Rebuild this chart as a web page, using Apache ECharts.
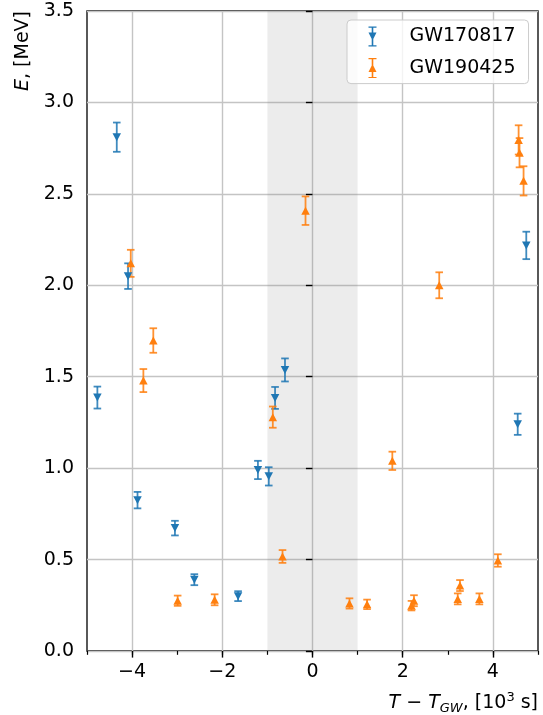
<!DOCTYPE html>
<html>
<head>
<meta charset="utf-8">
<script src="https://cdn.jsdelivr.net/npm/echarts@6/dist/echarts.min.js"></script>
<style>
  html, body { margin: 0; padding: 0; background: #ffffff; }
  #chart { width: 543px; height: 715px; }
</style>
</head>
<body>
<div id="chart"></div>
<script>
// Event energies versus time offset from the gravitational-wave trigger (10^3 s)
const gw170817Time = [-4.77, -4.34, -4.09, -3.88, -3.05, -2.62, -1.65, -1.21, -0.97, -0.83, -0.61, 4.55, 4.74];
const gw170817Energy = [1.386, 2.81, 2.05, 0.825, 0.672, 0.39, 0.30, 0.99, 0.955, 1.384, 1.537, 1.24, 2.218];
const gw170817Error = [0.06, 0.08, 0.07, 0.045, 0.04, 0.03, 0.027, 0.05, 0.05, 0.06, 0.063, 0.058, 0.075];

const gw190425Time = [-4.03, -3.75, -3.53, -2.99, -2.17, -0.88, -0.665, -0.155, 0.82, 1.21, 1.77,
                      2.195, 2.25, 2.81, 3.22, 3.27, 3.70, 4.11, 4.57, 4.59, 4.68];
const gw190425Energy = [2.12, 1.479, 1.698, 0.275, 0.28, 1.279, 0.517, 2.408, 0.26, 0.255, 1.04,
                        0.248, 0.275, 2.0, 0.285, 0.358, 0.285, 0.495, 2.795, 2.725, 2.571];
const gw190425Error = [0.074, 0.063, 0.067, 0.028, 0.03, 0.058, 0.035, 0.078, 0.028, 0.026, 0.05,
                       0.026, 0.03, 0.071, 0.03, 0.03, 0.03, 0.034, 0.08, 0.08, 0.08];

// Window around the trigger time
const triggerWindow = [-1, 1];

// Axis ticks
const xMajorTicks = [-4, -2, 0, 2, 4];
const xRange = [-5, 5];
const yRange = [0, 3.5];
const yStep = 0.5;

const FONT = 'DejaVu Sans';
const BLUE = '#1f77b4';
const ORANGE = '#ff7f0e';

const markerDown = 'path://M0 0L10 0L5 10Z';
const markerUp = 'path://M5 0L10 10L0 10Z';
// Legend glyphs: error bar with caps plus the marker
const legendDown = 'path://M0 0H80V12H0Z M32 0H48V200H32Z M0 188H80V200H0Z M0 60H80L40 140Z';
const legendUp = 'path://M0 0H80V12H0Z M32 0H48V200H32Z M0 188H80V200H0Z M40 60L80 140H0Z';

function rows(t, e, s) {
  return t.map((v, i) => [v, e[i], s[i]]);
}

function errorBarRenderer(color) {
  return function (params, api) {
    const x = api.value(0), y = api.value(1), s = api.value(2);
    const top = api.coord([x, y + s]);
    const bot = api.coord([x, y - s]);
    const hw = 3.8;
    const style = { stroke: color, lineWidth: 1.8, opacity: 0.85 };
    return {
      type: 'group',
      children: [
        { type: 'line', shape: { x1: top[0], y1: top[1], x2: bot[0], y2: bot[1] }, style: style },
        { type: 'line', shape: { x1: top[0] - hw, y1: top[1], x2: top[0] + hw, y2: top[1] }, style: style },
        { type: 'line', shape: { x1: bot[0] - hw, y1: bot[1], x2: bot[0] + hw, y2: bot[1] }, style: style }
      ]
    };
  };
}

function windowRenderer(params, api) {
  const p0 = api.coord([api.value(0), yRange[1]]);
  const p1 = api.coord([api.value(1), yRange[0]]);
  return {
    type: 'rect',
    shape: { x: p0[0], y: p0[1], width: p1[0] - p0[0], height: p1[1] - p0[1] },
    style: { fill: 'rgba(128,128,128,0.15)' }
  };
}

function minusLabel(v) {
  return v < 0 ? '\u2212' + Math.abs(v) : String(v);
}

const chart = echarts.init(document.getElementById('chart'), null, { renderer: 'canvas' });

const labelStyle = { fontFamily: FONT, fontSize: 19, color: '#000' };

chart.setOption({
  animation: false,
  backgroundColor: '#ffffff',
  textStyle: { fontFamily: FONT },
  grid: {
    left: 87, right: 5, top: 11, bottom: 64,
    show: true, borderColor: '#000', borderWidth: 1.3, backgroundColor: 'transparent'
  },
  xAxis: [
    {
      type: 'value', min: xRange[0], max: xRange[1],
      axisLine: { show: false },
      axisTick: { show: true, length: 6.6, lineStyle: { color: '#000', width: 1.4 }, customValues: xMajorTicks },
      axisLabel: { ...labelStyle, margin: 12, customValues: xMajorTicks, formatter: minusLabel },
      splitLine: { show: true, lineStyle: { color: '#c4c4c4', width: 1.4 } }
    },
    {
      type: 'value', min: xRange[0], max: xRange[1], interval: 1, position: 'bottom',
      axisLine: { show: false },
      axisTick: { show: true, length: 3.8, lineStyle: { color: '#000', width: 1.2 } },
      axisLabel: { show: false },
      splitLine: { show: false }
    }
  ],
  yAxis: {
    type: 'value', min: yRange[0], max: yRange[1], interval: yStep,
    axisLine: { show: false },
    axisTick: { show: true, length: 6.6, lineStyle: { color: '#000', width: 1.4 } },
    axisLabel: { ...labelStyle, margin: 13, formatter: v => v.toFixed(1) },
    splitLine: { show: true, lineStyle: { color: '#c4c4c4', width: 1.4 } }
  },
  legend: {
    orient: 'vertical',
    left: 347, top: 20,
    padding: [6.5, 13, 5.5, 21.5],
    itemWidth: 8, itemHeight: 20, itemGap: 11.6,
    backgroundColor: 'rgba(255,255,255,0.8)',
    borderColor: '#cccccc', borderWidth: 1, borderRadius: 4,
    symbolRotate: 0,
    selectedMode: false,
    textStyle: { fontFamily: FONT, fontSize: 19, color: '#000', padding: [0, 0, 0, 28] },
    data: [
      { name: 'GW170817', icon: legendDown },
      { name: 'GW190425', icon: legendUp }
    ]
  },
  series: [
    {
      name: 'window', type: 'custom', z: 0, silent: true,
      renderItem: windowRenderer,
      data: [triggerWindow]
    },
    {
      name: 'GW170817 errors', type: 'custom', silent: true,
      dimensions: ['t', 'E', 'err'], encode: { x: 't', y: 'E' },
      renderItem: errorBarRenderer(BLUE),
      data: rows(gw170817Time, gw170817Energy, gw170817Error)
    },
    {
      name: 'GW170817', type: 'scatter',
      symbol: markerDown, symbolSize: [8.5, 8],
      itemStyle: { color: BLUE, opacity: 1 },
      data: rows(gw170817Time, gw170817Energy, gw170817Error)
    },
    {
      name: 'GW190425 errors', type: 'custom', silent: true,
      dimensions: ['t', 'E', 'err'], encode: { x: 't', y: 'E' },
      renderItem: errorBarRenderer(ORANGE),
      data: rows(gw190425Time, gw190425Energy, gw190425Error)
    },
    {
      name: 'GW190425', type: 'scatter',
      symbol: markerUp, symbolSize: [8.5, 8],
      itemStyle: { color: ORANGE, opacity: 1 },
      data: rows(gw190425Time, gw190425Energy, gw190425Error)
    }
  ],
  graphic: [
    {
      type: 'text', x: 23, y: 11, rotation: Math.PI / 2,
      style: {
        text: '{i|E}, [MeV]',
        align: 'right', verticalAlign: 'middle',
        fontFamily: FONT, fontSize: 19, fill: '#000',
        rich: { i: { fontFamily: FONT, fontSize: 19, fontStyle: 'italic', fill: '#000' } }
      }
    },
    {
      type: 'text', x: 538, y: 703,
      style: {
        text: '{i|T} \u2212 {i|T}{sub|GW}, [10{sup|3} s]',
        align: 'right', verticalAlign: 'middle',
        fontFamily: FONT, fontSize: 19, fill: '#000', lineHeight: 24,
        rich: {
          i: { fontFamily: FONT, fontSize: 19, fontStyle: 'italic', fill: '#000', lineHeight: 24 },
          sub: { fontFamily: FONT, fontSize: 13, fontStyle: 'italic', fill: '#000', lineHeight: 13, verticalAlign: 'bottom' },
          sup: { fontFamily: FONT, fontSize: 13, fill: '#000', lineHeight: 13, verticalAlign: 'top' }
        }
      }
    }
  ]
});
</script>
</body>
</html>
